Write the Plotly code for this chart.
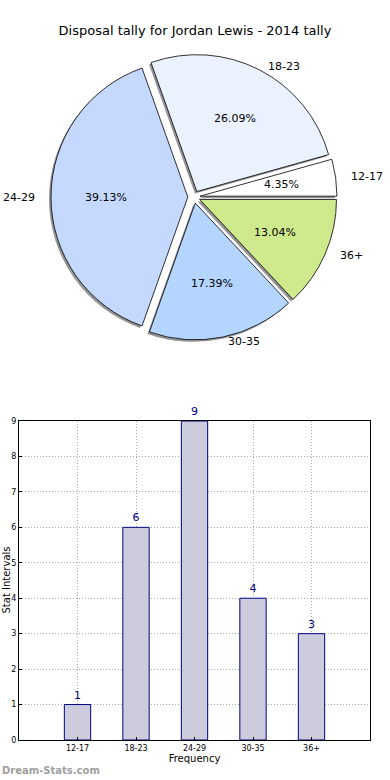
import numpy as np
import plotly.graph_objects as go

categories = ["12-17", "18-23", "24-29", "30-35", "36+"]
counts = [1, 6, 9, 4, 3]
pie_colors = ["#ffffff", "#eaf2ff", "#c5d9ff", "#b3d5ff", "#cfea8c"]
yticks = list(range(0, 10))

W, H = 390, 780
FONT = "DejaVu Sans"

# pie geometry (pixels)
cx, cy, half = 194, 197, 143
pull = 0.045
r = half / (1 + pull)          # plotly's pie radius inside the domain
px = lambda v: v / W
py = lambda v: 1 - v / H

def dom(dx=0, dy=0):
    return dict(x=[px(cx - half + dx), px(cx + half + dx)],
                y=[py(cy + half + dy), py(cy - half + dy)])

# first slice starts at 3 o'clock, going counterclockwise
total = sum(counts)
rot = 90 - 360 * counts[0] / total

common = dict(labels=categories, values=counts, sort=False,
              direction="counterclockwise", rotation=rot,
              pull=[pull] * len(counts), hoverinfo="skip",
              textinfo="none", showlegend=False)

fig = go.Figure()
# shadow
fig.add_trace(go.Pie(**common, domain=dom(-2, 2),
                     marker=dict(colors=["rgba(60,60,60,0.55)"] * 5, line=dict(width=0))))
# main pie
fig.add_trace(go.Pie(**common, domain=dom(),
                     marker=dict(colors=pie_colors, line=dict(color="black", width=0.8))))

# slice labels (percent at 0.6 r, category at 1.1 r from the exploded centre)
annotations = []
start = 0.0
for cat, v in zip(categories, counts):
    frac = v / total
    mid = np.deg2rad((start + frac / 2) * 360)
    start += frac
    c, s = np.cos(mid), np.sin(mid)
    d_in = (pull + 0.6) * r
    d_out = (pull + 1.1) * r
    annotations.append(dict(text=f"{frac * 100:.2f}%", xref="paper", yref="paper",
                            x=px(cx + d_in * c), y=py(cy - d_in * s),
                            xanchor="center", yanchor="middle", showarrow=False,
                            font=dict(family=FONT, size=11, color="black")))
    annotations.append(dict(text=cat, xref="paper", yref="paper",
                            x=px(cx + d_out * c), y=py(cy - d_out * s * 0.94),
                            xanchor="left" if c > 0 else "right", yanchor="middle",
                            showarrow=False,
                            font=dict(family=FONT, size=11, color="black")))

# bar chart
fig.add_trace(go.Bar(x=list(range(len(categories))), y=counts, width=0.45,
                     marker=dict(color="#ccccdd", line=dict(color="#000080", width=1)),
                     text=[str(c) for c in counts], textposition="outside",
                     textfont=dict(family=FONT, size=11, color="#000080"),
                     cliponaxis=False, showlegend=False, hoverinfo="skip"))

annotations += [
    dict(text="Stat Intervals", xref="paper", yref="paper",
         x=px(5.5), y=py(580), xanchor="center", yanchor="middle",
         textangle=-90, showarrow=False,
         font=dict(family=FONT, size=10, color="black")),
    dict(text="<b>Dream-Stats.com</b>", xref="paper", yref="paper",
         x=0, y=py(770), xanchor="left", yanchor="middle", showarrow=False,
         font=dict(family=FONT, size=10, color="#a0a0a0")),
]

grid = dict(showgrid=True, gridcolor="#a8a8a8", griddash="1px,2px", gridwidth=1,
            showline=True, linecolor="black", linewidth=1, mirror=True,
            ticks="inside", ticklen=3, tickcolor="black",
            zeroline=False, fixedrange=True, automargin=False)

fig.update_layout(
    width=W, height=H, margin=dict(l=0, r=0, t=0, b=0),
    paper_bgcolor="white", plot_bgcolor="white",
    font=dict(family=FONT, color="black"),
    title=dict(text="Disposal tally for Jordan Lewis - 2014 tally",
               x=0.5, xanchor="center", y=py(30), yanchor="middle",
               font=dict(family=FONT, size=13, color="black")),
    xaxis=dict(domain=[px(19), px(370)], range=[-1, 5],
               tickmode="array", tickvals=list(range(len(categories))),
               ticktext=categories, tickfont=dict(size=8, family=FONT),
               title=dict(text="Frequency", font=dict(size=10, family=FONT), standoff=2),
               **grid),
    yaxis=dict(domain=[py(740), py(421)], range=[0, 9],
               tickmode="array", tickvals=yticks,
               tickfont=dict(size=8, family=FONT), **grid),
    annotations=annotations,
)

fig.write_html("out.html", config={"displayModeBar": False},
               post_script="document.body.style.margin='0';")
